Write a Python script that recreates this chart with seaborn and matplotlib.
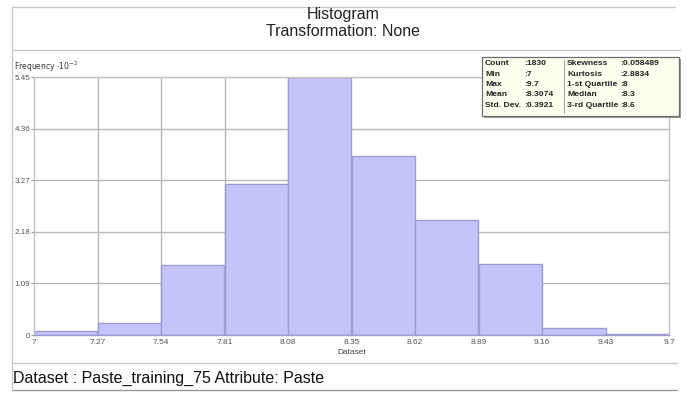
import numpy as np
import pandas as pd
import seaborn as sns
import matplotlib
matplotlib.use("Agg")
import matplotlib.pyplot as plt
from matplotlib.patches import Rectangle
from matplotlib.lines import Line2D

# Bin edges and per-bin frequencies (units of 10^-2)
bin_edges = [7.0, 7.27, 7.54, 7.81, 8.08, 8.35, 8.62, 8.89, 9.16, 9.43, 9.7]
frequency = [0.09, 0.26, 1.47, 3.19, 5.45, 3.79, 2.43, 1.49, 0.14, 0.03]
x_tick_labels = ["7", "7.27", "7.54", "7.81", "8.08", "8.35", "8.62", "8.89", "9.16", "9.43", "9.7"]
y_ticks = [0, 1.09, 2.18, 3.27, 4.36, 5.45]
y_tick_labels = ["0", "1.09", "2.18", "3.27", "4.36", "5.45"]

stats_left_names = ["Count", "Min", "Max", "Mean", "Std. Dev."]
stats_left_values = [":1830", ":7", ":9.7", ":8.3074", ":0.3921"]
stats_right_names = ["Skewness", "Kurtosis", "1-st Quartile", "Median", "3-rd Quartile"]
stats_right_values = [":0.058489", ":2.8834", ":8", ":8.3", ":8.6"]

title_lines = ["Histogram", "Transformation: None"]
footer = "Dataset : Paste_training_75 Attribute: Paste"

sns.set_theme(style="white")
plt.rcParams["font.family"] = ["Liberation Sans", "DejaVu Sans"]

W, H = 687, 394
fig = plt.figure(figsize=(W / 100, H / 100), dpi=100)
fig.patch.set_facecolor("white")


def fx(px):
    return px / W


def fy(py):
    return 1 - py / H


# Plot area in pixel terms
left, right, top, bottom = 34, 669, 77, 335
ax = fig.add_axes([fx(left), fy(bottom), fx(right - left), (bottom - top) / H])

centers = [(a + b) / 2 for a, b in zip(bin_edges[:-1], bin_edges[1:])]
df = pd.DataFrame({"value": centers, "freq": frequency})

# Grid behind the bars
grid_c = "#B8B8B8"
for yv in y_ticks[1:]:
    ax.axhline(yv, color=grid_c, lw=1.0, zorder=0)
ax.vlines(bin_edges[1:5], 0, y_ticks[-1], color=grid_c, lw=1.0, zorder=0)

sns.histplot(data=df, x="value", weights="freq", bins=bin_edges, ax=ax,
             color="#C4C4FA", edgecolor="#9C9CD2", alpha=1.0, linewidth=1.0,
             zorder=2)

ax.set_xlim(bin_edges[0], bin_edges[-1])
ax.set_ylim(0, y_ticks[-1])
ax.set_xticks(bin_edges)
ax.set_xticklabels(x_tick_labels)
ax.set_yticks(y_ticks)
ax.set_yticklabels(y_tick_labels)
ax.tick_params(axis="x", length=0, pad=3, labelsize=6, labelcolor="#555555")
ax.tick_params(axis="y", length=2.2, width=0.8, color="#999999", pad=0.3,
               labelsize=5.8, labelcolor="#555555", left=True)
ax.set_xlabel("Dataset", fontsize=6, color="#444444", labelpad=2)
ax.set_ylabel("")
for s in ax.spines.values():
    s.set_color("#C4C4C4")
    s.set_linewidth(1.0)
ax.spines["bottom"].set_color("#9C9CD2")

# Axis caption above the y axis
fig.text(fx(14), fy(67), r"Frequency $\cdot$10$^{-2}$", fontsize=5.5,
         color="#333333", ha="left", va="center", family="DejaVu Sans")

# Title block
fig.text(0.5, fy(14), title_lines[0], ha="center", va="center", fontsize=11.5, color="#222222")
fig.text(0.5, fy(32), title_lines[1], ha="center", va="center", fontsize=11.5, color="#222222")

# Frame lines
frame_c = "#C8C8C8"
for yy, x1, c in [(7, 675, frame_c), (50, 680, frame_c), (363, 677, frame_c), (390, 677, "#9A9A9A")]:
    fig.add_artist(Line2D([fx(12), fx(x1)], [fy(yy), fy(yy)], color=c, lw=1.0))
fig.add_artist(Line2D([fx(12), fx(12)], [fy(7), fy(390)], color=frame_c, lw=1.0))

# Footer caption
fig.text(fx(13), fy(378), footer, ha="left", va="center", fontsize=11.5, color="#111111")

# Summary statistics box with a drop shadow
bx0, bx1, by0, by1 = 482, 679, 57, 116
fig.add_artist(Rectangle((fx(bx0 + 2), fy(by1 + 2)), fx(bx1 - bx0), (by1 - by0) / H,
                         facecolor="#9A9A9A", edgecolor="none", zorder=5))
fig.add_artist(Rectangle((fx(bx0), fy(by1)), fx(bx1 - bx0), (by1 - by0) / H,
                         facecolor="#FFFFF0", edgecolor="#6E6E6E", lw=0.9, zorder=6))
fig.add_artist(Line2D([fx(564), fx(564)], [fy(by0 + 3), fy(by1 - 3)], color="#AAAAAA", lw=0.8, zorder=7))

row_y = [63.5, 74, 84.5, 95, 105.5]
kw = dict(fontsize=6.1, fontweight="bold", color="#222222", va="center", ha="left",
          family="Liberation Sans", zorder=8)
for i, yy in enumerate(row_y):
    fig.text(fx(485), fy(yy), stats_left_names[i], **kw)
    fig.text(fx(524), fy(yy), stats_left_values[i], **kw)
    fig.text(fx(567), fy(yy), stats_right_names[i], **kw)
    fig.text(fx(620), fy(yy), stats_right_values[i], **kw)

fig.savefig("out.png", dpi=100, facecolor="white")
